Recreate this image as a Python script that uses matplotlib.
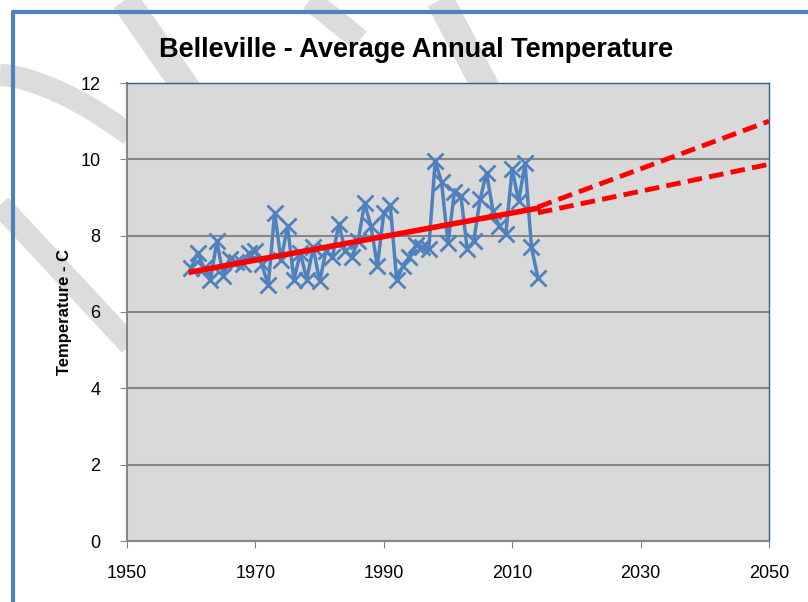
import matplotlib.pyplot as plt
import numpy as np

# Belleville annual mean temperature
years = list(range(1960, 2015))
temps = [7.15, 7.55, 7.15, 6.85, 7.85, 6.95, 7.4, 7.3, 7.25, 7.55,
         7.6, 7.25, 6.7, 8.6, 7.35, 8.25, 6.85, 7.55, 6.85, 7.7,
         6.8, 7.6, 7.45, 8.3, 7.6, 7.45, 7.85, 8.85, 8.25, 7.2,
         8.6, 8.8, 6.85, 7.2, 7.45, 7.75, 7.7, 7.65, 9.95, 9.4,
         7.8, 9.15, 9.05, 7.65, 7.85, 8.95, 9.65, 8.65, 8.25, 8.05,
         9.75, 8.9, 9.9, 7.7, 6.9]

# linear trend and projections
trend_years = [1960, 2014]
trend_vals = [7.05, 8.72]
proj_years = [2014, 2050]
proj_high = [8.75, 11.0]
proj_low = [8.6, 9.87]

yticks = [0, 2, 4, 6, 8, 10, 12]
xticks = [1950, 1970, 1990, 2010, 2030, 2050]

plt.rcParams['font.family'] = ['Liberation Sans Narrow', 'Liberation Sans', 'DejaVu Sans']

fig = plt.figure(figsize=(8.08, 6.02), dpi=100)
fig.patch.set_facecolor('white')

# background decoration (grey swooshes + blue frame)
bg = fig.add_axes([0, 0, 1, 1], zorder=-1)
bg.set_xlim(0, 808)
bg.set_ylim(602, 0)
bg.axis('off')
sw = '#dcdcdc'
t = np.linspace(0, 1, 50)
bg.plot(0 + 130 * t, 75 + 60 * t ** 1.6, color=sw, lw=16, solid_capstyle='butt')
bg.plot([0, 130], [205, 345], color=sw, lw=16, solid_capstyle='butt')
bg.plot([125, 250], [0, 180], color=sw, lw=20, solid_capstyle='butt')
bg.plot([440, 500], [0, 115], color=sw, lw=20, solid_capstyle='butt')
bg.plot([310, 360], [0, 40], color=sw, lw=16, solid_capstyle='butt')
bg.plot([13, 13, 808], [602, 12, 12], color='#4f81bd', lw=3)

ax = fig.add_axes([127 / 808, 1 - 541 / 602, 642 / 808, 458 / 602])
ax.set_facecolor('#d9d9d9')

ax.plot(years, temps, color='#4f81bd', lw=2.5, marker='x', ms=11, mew=2, zorder=3)
ax.plot(trend_years, trend_vals, color='red', lw=4, zorder=4)
ax.plot(proj_years, proj_high, color='red', lw=3.5, ls=(0, (3, 1.5)), zorder=4)
ax.plot(proj_years, proj_low, color='red', lw=3.5, ls=(0, (3, 1.5)), zorder=4)

ax.set_xlim(1950, 2050)
ax.set_ylim(0, 12)
ax.set_xticks(xticks)
ax.set_yticks(yticks)
ax.tick_params(labelsize=13, direction='out', length=5, color='#868686')
ax.tick_params(axis='x', pad=12)
ax.tick_params(axis='y', pad=14)
ax.yaxis.grid(True, color='#868686', lw=1.5)
ax.set_axisbelow(True)
for s in ['left', 'bottom']:
    ax.spines[s].set_color('#868686')
    ax.spines[s].set_linewidth(1.5)
for s in ['top', 'right']:
    ax.spines[s].set_color('#385d8a')
    ax.spines[s].set_linewidth(1)

ax.set_ylabel('Temperature - C', fontsize=12, fontweight='bold', labelpad=6)
fig.text(0.515, 0.917, 'Belleville - Average Annual Temperature',
         ha='center', va='center', fontsize=19.5, fontweight='bold')

fig.savefig('out.png', dpi=100)
